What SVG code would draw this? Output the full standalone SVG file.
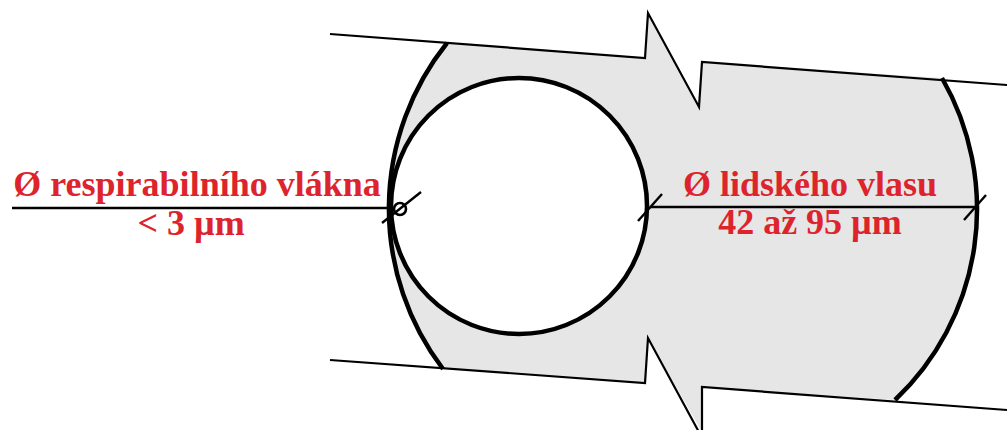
<svg xmlns="http://www.w3.org/2000/svg" width="1007" height="430" viewBox="0 0 1007 430">
<style>
.edge{fill:none;stroke:#000;stroke-width:2.2;stroke-linejoin:miter}
.thick{fill:none;stroke:#000;stroke-width:4.5}
.dim{fill:none;stroke:#000;stroke-width:2.4}
.lbl{font-family:"Liberation Serif","Times New Roman",serif;font-weight:bold;font-size:36px;fill:#dd242d;text-anchor:middle}
</style>
<rect width="1007" height="430" fill="#fff"/>
<g id="hair">
<path d="M447,43 L645,58 L648,13 L699,107 L702,62 L942,78 A263,263 0 0 1 895,400 L702,387 L702,432 L648,338 L645,383 L443,369 A265,265 0 0 1 447,43 Z" fill="#e6e6e6" stroke="none"/>
<path class="edge" d="M330,34 L645,58 L648,13 L699,107 L702,62 L1007,85"/>
<path class="edge" d="M330,360 L645,383 L648,338 L700,434"/>
<path class="edge" d="M702,432 L702,387 L1007,410"/>
<path class="thick" d="M443,369 A265,265 0 0 1 447,43"/>
<path class="thick" d="M942,78 A263,263 0 0 1 895,400"/>
</g>
<g id="fiber">
<circle cx="519" cy="206" r="128" fill="#fff" stroke="#000" stroke-width="4.5"/>
</g>
<g id="connectors">
<line class="dim" x1="12" y1="208" x2="394" y2="208"/>
<circle cx="400" cy="209" r="6" fill="none" stroke="#000" stroke-width="2.6"/>
<line class="dim" x1="382" y1="223" x2="421" y2="192"/>
<line class="dim" x1="650" y1="207" x2="975" y2="207"/>
<line class="dim" x1="638" y1="221" x2="662" y2="194"/>
<line class="dim" x1="964" y1="220" x2="986" y2="195"/>
</g>
<g id="labels">
<text class="lbl" x="197" y="196">Ø respirabilního vlákna</text>
<text class="lbl" x="191" y="235">&lt; 3 µm</text>
<text class="lbl" x="810" y="196">Ø lidského vlasu</text>
<text class="lbl" x="810" y="234">42 až 95 µm</text>
</g>
</svg>
